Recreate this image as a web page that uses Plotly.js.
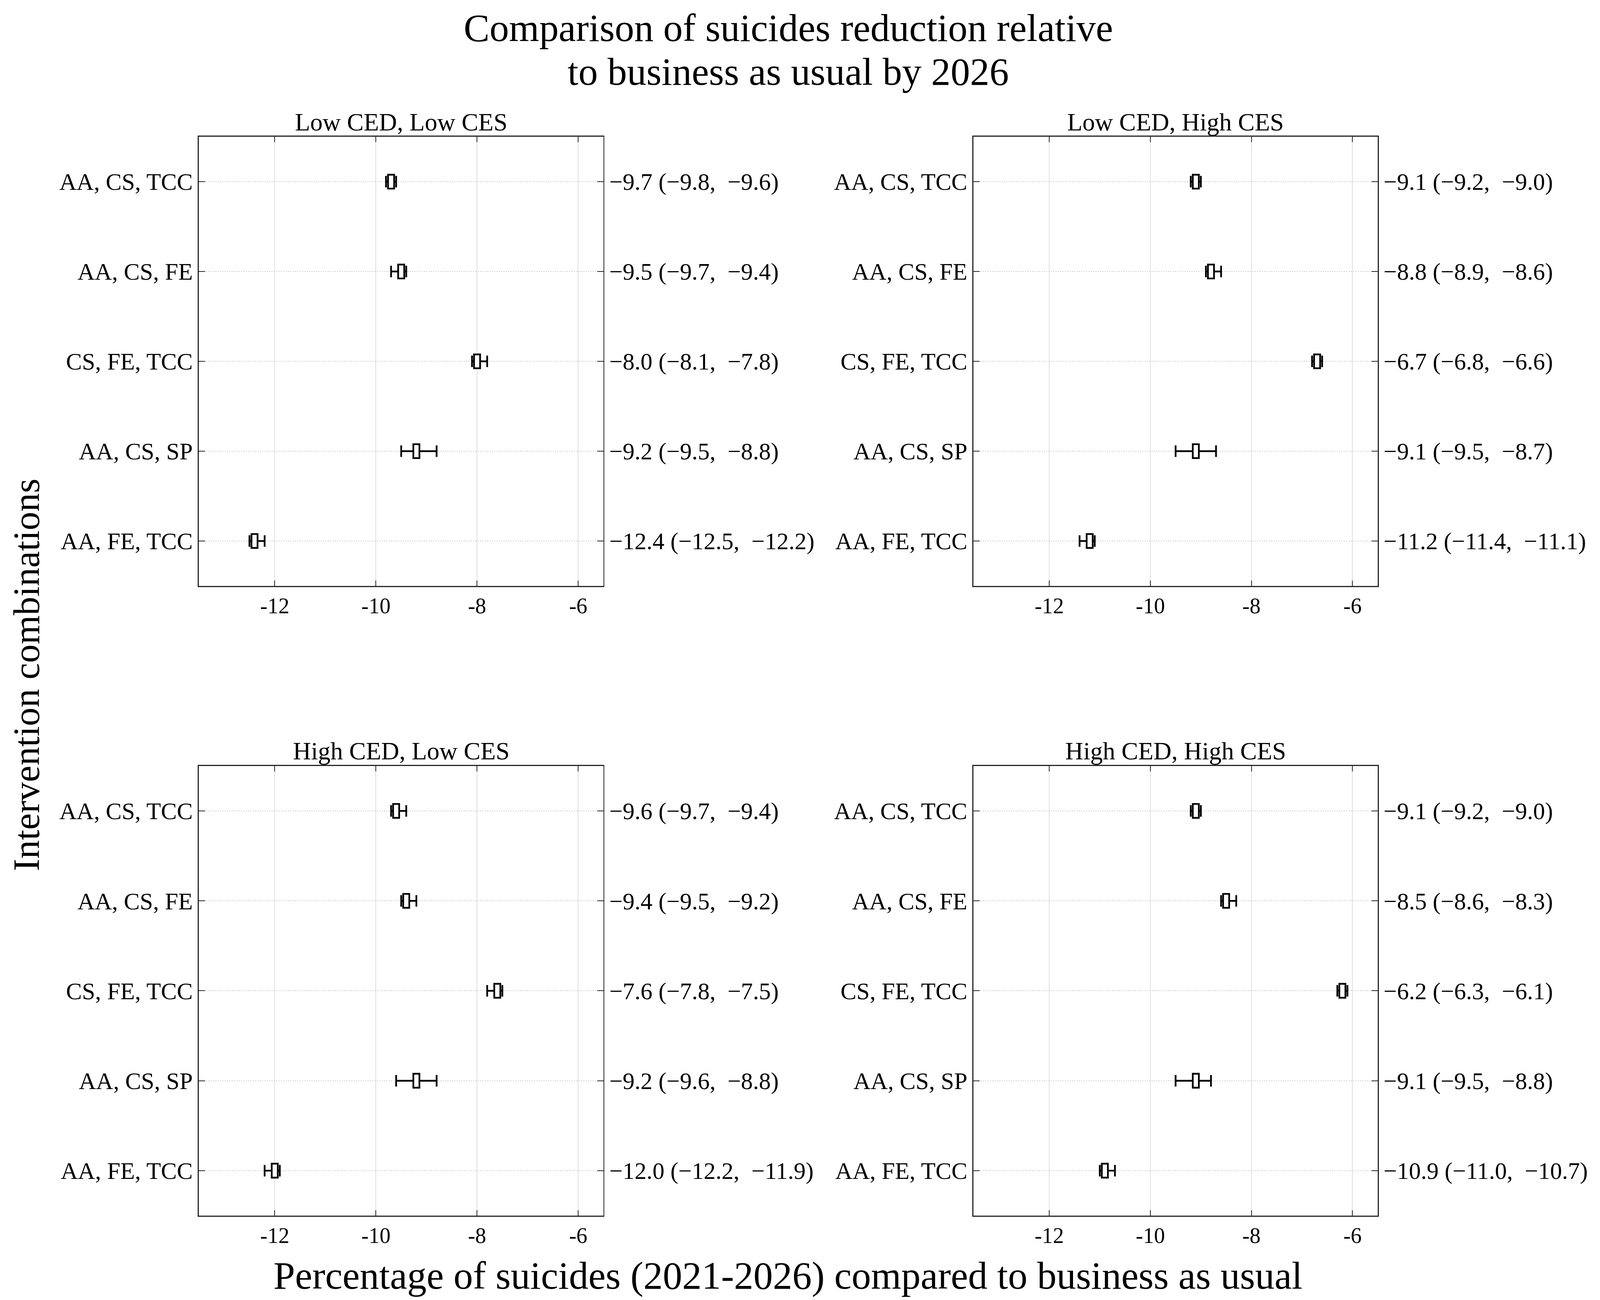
<!DOCTYPE html>
<html>
<head>
<meta charset="utf-8">
<script src="https://cdn.plot.ly/plotly-3.0.1.min.js"></script>
<style>
  html, body { margin: 0; padding: 0; background: #ffffff; overflow: hidden; }
  #chart { width: 100vw; height: 100vh; }
</style>
</head>
<body>
<div id="chart"></div>
<script>
// ---------------- data ----------------
const combos = ['AA, CS, TCC', 'AA, CS, FE', 'CS, FE, TCC', 'AA, CS, SP', 'AA, FE, TCC'];
const panelTitles = ['Low CED, Low CES', 'Low CED, High CES', 'High CED, Low CES', 'High CED, High CES'];

// Low CED, Low CES
const estLL = [-9.7, -9.5, -8.0, -9.2, -12.4];
const loLL  = [-9.8, -9.7, -8.1, -9.5, -12.5];
const hiLL  = [-9.6, -9.4, -7.8, -8.8, -12.2];
const boxLoLL = [-9.76, -9.56, -8.06, -9.26, -12.46];
const boxHiLL = [-9.64, -9.44, -7.94, -9.14, -12.34];

// Low CED, High CES
const estLH = [-9.1, -8.8, -6.7, -9.1, -11.2];
const loLH  = [-9.2, -8.9, -6.8, -9.5, -11.4];
const hiLH  = [-9.0, -8.6, -6.6, -8.7, -11.1];
const boxLoLH = [-9.16, -8.86, -6.76, -9.16, -11.26];
const boxHiLH = [-9.04, -8.74, -6.64, -9.04, -11.14];

// High CED, Low CES
const estHL = [-9.6, -9.4, -7.6, -9.2, -12.0];
const loHL  = [-9.7, -9.5, -7.8, -9.6, -12.2];
const hiHL  = [-9.4, -9.2, -7.5, -8.8, -11.9];
const boxLoHL = [-9.66, -9.46, -7.66, -9.26, -12.06];
const boxHiHL = [-9.54, -9.34, -7.54, -9.14, -11.94];

// High CED, High CES
const estHH = [-9.1, -8.5, -6.2, -9.1, -10.9];
const loHH  = [-9.2, -8.6, -6.3, -9.5, -11.0];
const hiHH  = [-9.0, -8.3, -6.1, -8.8, -10.7];
const boxLoHH = [-9.16, -8.56, -6.26, -9.16, -10.96];
const boxHiHH = [-9.04, -8.44, -6.14, -9.04, -10.84];

const xTickVals = [-12, -10, -8, -6];
const xTickText = ['-12', '-10', '-8', '-6'];

// ---------------- build ----------------
const panels = [
  {est: estLL, lo: loLL, hi: hiLL, bLo: boxLoLL, bHi: boxHiLL},
  {est: estLH, lo: loLH, hi: hiLH, bLo: boxLoLH, bHi: boxHiLH},
  {est: estHL, lo: loHL, hi: hiHL, bLo: boxLoHL, bHi: boxHiHL},
  {est: estHH, lo: loHH, hi: hiHH, bLo: boxLoHH, bHi: boxHiHH}
];

const W = window.innerWidth || 4160;
const H = window.innerHeight || 3328;
const S = Math.min(W / 4160, H / 3328);
const px = v => v * S;

const FONT = '"Liberation Serif", "DejaVu Serif", serif';
const fmt = v => (v < 0 ? '\u2212' : '') + Math.abs(v).toFixed(1);

const xDomains = [[0.1243, 0.3772], [0.6084, 0.8611], [0.1243, 0.3772], [0.6084, 0.8611]];
const yDomains = [[0.5493, 0.8948], [0.5493, 0.8948], [0.0649, 0.4108], [0.0649, 0.4108]];

const traces = [];
const layout = {
  width: W,
  height: H,
  margin: {l: 0, r: 0, t: 0, b: 0, pad: 0},
  paper_bgcolor: '#ffffff',
  plot_bgcolor: 'rgba(0,0,0,0)',
  showlegend: false,
  font: {family: FONT, color: '#000000'},
  bargap: 0,
  annotations: []
};

panels.forEach((p, i) => {
  const n = i + 1;
  const xName = 'x' + (n === 1 ? '' : n);
  const yName = 'y' + (n === 1 ? '' : n);
  const y2Name = 'y' + (n + 4);

  traces.push({
    type: 'scatter',
    mode: 'markers',
    x: p.est,
    y: combos,
    xaxis: xName,
    yaxis: yName,
    marker: {size: 1, color: 'rgba(0,0,0,0)'},
    error_x: {
      type: 'data',
      symmetric: false,
      array: p.hi.map((h, k) => h - p.est[k]),
      arrayminus: p.lo.map((l, k) => p.est[k] - l),
      color: '#000000',
      thickness: px(4.5),
      width: px(15)
    },
    hoverinfo: 'skip'
  });

  traces.push({
    type: 'bar',
    orientation: 'h',
    y: combos,
    base: p.bLo,
    x: p.bHi.map((h, k) => h - p.bLo[k]),
    xaxis: xName,
    yaxis: y2Name,
    width: 0.155,
    marker: {color: '#ffffff', line: {color: '#000000', width: px(4.5)}},
    hoverinfo: 'skip'
  });

  layout['xaxis' + (n === 1 ? '' : n)] = {
    domain: xDomains[i],
    anchor: yName,
    range: [-13.5, -5.5],
    tickmode: 'array',
    tickvals: xTickVals,
    ticktext: xTickText,
    ticks: 'inside',
    ticklen: px(14),
    tickwidth: px(2),
    tickcolor: '#262626',
    mirror: 'ticks',
    showline: true,
    linecolor: '#262626',
    linewidth: px(3),
    showgrid: true,
    gridcolor: '#e0e0e0',
    gridwidth: px(2),
    zeroline: false,
    tickfont: {family: FONT, size: px(57), color: '#000000'},
    ticklabelstandoff: px(6),
    fixedrange: true
  };

  layout['yaxis' + (n === 1 ? '' : n)] = {
    domain: yDomains[i],
    anchor: xName,
    type: 'category',
    categoryorder: 'array',
    categoryarray: combos,
    range: [4.5, -0.5],
    ticks: 'inside',
    ticklen: px(16),
    tickwidth: px(2),
    tickcolor: '#262626',
    showline: true,
    linecolor: '#262626',
    linewidth: px(3.5),
    showgrid: true,
    gridcolor: '#cfcfcf',
    gridwidth: px(2),
    griddash: 'dot',
    zeroline: false,
    tickfont: {family: FONT, size: px(62), color: '#000000'},
    ticklabelstandoff: px(3),
    fixedrange: true
  };

  layout['yaxis' + (n + 4)] = {
    overlaying: yName,
    side: 'right',
    anchor: xName,
    type: 'category',
    categoryorder: 'array',
    categoryarray: combos,
    range: [4.5, -0.5],
    tickmode: 'array',
    tickvals: combos,
    ticktext: combos.map((c, k) => fmt(p.est[k]) + ' (' + fmt(p.lo[k]) + ',  ' + fmt(p.hi[k]) + ')'),
    ticks: 'inside',
    ticklen: px(16),
    tickwidth: px(2),
    tickcolor: '#262626',
    showline: true,
    linecolor: '#262626',
    linewidth: px(2.5),
    showgrid: false,
    zeroline: false,
    tickfont: {family: FONT, size: px(62), color: '#000000'},
    ticklabelstandoff: px(21),
    fixedrange: true
  };

  layout.annotations.push({
    text: panelTitles[i],
    xref: 'paper', yref: 'paper',
    x: (xDomains[i][0] + xDomains[i][1]) / 2,
    y: i < 2 ? 0.9062 : 0.4222,
    xanchor: 'center', yanchor: 'middle',
    showarrow: false,
    font: {family: FONT, size: px(65), color: '#000000'}
  });
});

layout.annotations.push(
  {text: 'Comparison of suicides reduction relative', xref: 'paper', yref: 'paper',
   x: 0.4926, y: 0.9784, xanchor: 'center', yanchor: 'middle', showarrow: false,
   font: {family: FONT, size: px(101), color: '#000000'}},
  {text: 'to business as usual by 2026', xref: 'paper', yref: 'paper',
   x: 0.4926, y: 0.945, xanchor: 'center', yanchor: 'middle', showarrow: false,
   font: {family: FONT, size: px(101), color: '#000000'}},
  {text: 'Intervention combinations', xref: 'paper', yref: 'paper',
   x: 0.0166, y: 0.481, xanchor: 'center', yanchor: 'middle', textangle: -90, showarrow: false,
   font: {family: FONT, size: px(97), color: '#000000'}},
  {text: 'Percentage of suicides (2021-2026) compared to business as usual', xref: 'paper', yref: 'paper',
   x: 0.4925, y: 0.0189, xanchor: 'center', yanchor: 'middle', showarrow: false,
   font: {family: FONT, size: px(101), color: '#000000'}}
);

Plotly.newPlot('chart', traces, layout, {displayModeBar: false, staticPlot: true});
</script>
</body>
</html>
